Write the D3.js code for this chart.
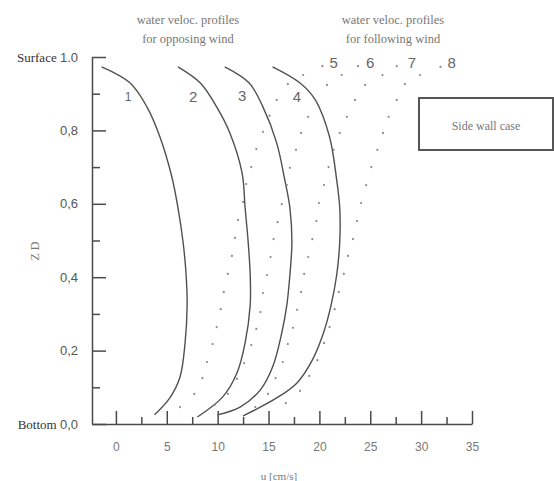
<!DOCTYPE html>
<html>
<head>
<meta charset="utf-8">
<style type="text/css">
html, body{
	padding: 0;
	margin: 0;
	background: white;
}
text{
	fill: #666;
}
.serif{ font-family: "Liberation Serif", "DejaVu Serif", serif; }
.sans{ font-family: "Liberation Sans", Arial, sans-serif; }
</style>
<script src="https://cdn.jsdelivr.net/npm/d3@7/dist/d3.min.js"></script>
</head>
<body>
<svg width=554 height=481></svg>

<script type="text/javascript">
// solid profiles (opposing wind), [u cm/s, z/D]
const profile1 = [[-1.4,0.973],[1.4,0.929],[3.05,0.864],[4.33,0.782],[5.5,0.673],[6.1,0.589],[6.6,0.496],[6.9,0.406],[7.0,0.324],[6.8,0.221],[6.3,0.128],[5.3,0.071],[3.8,0.025]];
const profile2 = [[6.1,0.973],[8.3,0.929],[9.9,0.864],[11.2,0.793],[12.4,0.684],[12.7,0.589],[13.0,0.496],[13.2,0.406],[13.2,0.324],[12.7,0.221],[11.9,0.139],[10.5,0.074],[8.0,0.019]];
const profile3 = [[10.7,0.973],[13.1,0.929],[14.45,0.864],[15.8,0.766],[16.6,0.665],[17.1,0.589],[17.3,0.496],[17.1,0.406],[16.8,0.324],[16.3,0.248],[15.4,0.155],[14.2,0.093],[12.2,0.046],[10.0,0.025]];
const profile4 = [[15.4,0.973],[18.1,0.929],[19.6,0.883],[21.0,0.782],[21.7,0.665],[22.0,0.589],[22.0,0.496],[21.7,0.406],[21.15,0.324],[20.4,0.248],[19.3,0.174],[17.8,0.112],[15.8,0.071],[12.5,0.022]];

// dotted profiles (following wind)
const profile5 = [[20.3,0.975],[18.4,0.951],[16.9,0.926],[15.8,0.883],[15.1,0.840],[14.45,0.796],[13.8,0.749],[13.3,0.700],[12.8,0.654],[12.5,0.605],[12.0,0.556],[11.7,0.507],[11.4,0.458],[11.0,0.409],[10.6,0.360],[10.3,0.313],[9.9,0.264],[9.5,0.218],[8.95,0.169],[8.5,0.125],[7.7,0.082],[6.3,0.046]];
const profile6 = [[23.8,0.975],[22.2,0.951],[20.75,0.924],[19.7,0.880],[18.9,0.837],[18.2,0.793],[17.7,0.747],[17.1,0.698],[16.8,0.651],[16.3,0.599],[15.9,0.550],[15.5,0.504],[15.2,0.455],[14.85,0.406],[14.45,0.357],[14.2,0.305],[13.8,0.259],[13.3,0.215],[12.6,0.166],[11.9,0.123],[11.0,0.082],[9.7,0.052]];
const profile7 = [[27.6,0.975],[26.2,0.951],[24.5,0.924],[23.5,0.883],[22.7,0.837],[22.0,0.793],[21.4,0.747],[20.9,0.700],[20.45,0.651],[19.95,0.602],[19.7,0.553],[19.3,0.504],[18.9,0.455],[18.5,0.409],[18.2,0.360],[17.8,0.311],[17.4,0.262],[16.9,0.218],[16.4,0.169],[15.7,0.125],[14.95,0.082],[13.7,0.046]];
const profile8 = [[31.9,0.973],[29.9,0.951],[28.4,0.926],[27.6,0.883],[26.8,0.837],[26.25,0.793],[25.7,0.747],[25.1,0.700],[24.6,0.651],[24.1,0.602],[23.7,0.553],[23.3,0.504],[22.8,0.458],[22.4,0.409],[21.9,0.360],[21.5,0.313],[21.0,0.264],[20.45,0.221],[19.8,0.174],[19.0,0.131],[18.1,0.090],[16.7,0.057]];

const curveNames = ['1','2','3','4','5','6','7','8'];
const curveLabelAt = [[1.2,0.891],[7.6,0.891],[12.4,0.894],[17.8,0.891],[21.4,0.986],[25.0,0.986],[29.1,0.986],[33.0,0.986]];

const xTicks = [0,5,10,15,20,25,30,35];
const xMinor = [2.5,7.5,12.5,17.5,22.5,27.5,32.5];
const yTicks = [0,0.2,0.4,0.6,0.8,1.0];
const yMinor = [0.1,0.3,0.5,0.7,0.9];
const yTickNames = ['0,0','0,2','0,4','0,6','0,8','1.0'];

var svg = d3.select('svg');

var x = d3.scaleLinear().domain([-2.35,35]).range([92,472]);
var y = d3.scaleLinear().domain([0,1]).range([424,57]);

// x axis, ticks pointing up
var gx = svg.append('g').attr('transform','translate(0,'+y(0)+')')
	.call(d3.axisBottom(x).tickValues(xTicks).tickSize(-13).tickSizeOuter(0).tickPadding(18));
svg.append('g').attr('transform','translate(0,'+y(0)+')')
	.call(d3.axisBottom(x).tickValues(xMinor).tickSize(-7).tickFormat('')).select('.domain').remove();
gx.selectAll('text').attr('class','sans').style('font-size','12px').style('fill','#777');

// y axis, ticks pointing right
var gy = svg.append('g').attr('transform','translate('+x.range()[0]+',0)')
	.call(d3.axisLeft(y).tickValues(yTicks).tickSize(-14).tickSizeOuter(0).tickFormat('').tickPadding(14));
svg.append('g').attr('transform','translate('+x.range()[0]+',0)')
	.call(d3.axisLeft(y).tickValues(yMinor).tickSize(-8).tickFormat('')).select('.domain').remove();

svg.selectAll('.domain, .tick line').style('stroke','#4a4a4a').style('stroke-width',1.5);

var ylab = svg.append('g').selectAll('text')
	.data(yTicks).enter().append('text')
	.attr('class','sans')
	.attr('x',78)
	.attr('y',d=>y(d))
	.attr('dy','0.35em')
	.style('text-anchor','end')
	.style('font-size','13px')
	.style('fill','#555');
ylab.filter(d=>d==1||d==0).append('tspan').attr('class','serif').style('fill','#333')
	.text(d=>d==1?'Surface ':'Bottom ');
ylab.append('tspan').text((d,p)=>yTickNames[p]);

// profiles
var line = d3.line().x(d=>x(d[0])).y(d=>y(d[1])).curve(d3.curveCatmullRom.alpha(0.5));

svg.append('g').selectAll('path')
	.data([profile1,profile2,profile3,profile4])
	.enter().append('path')
	.attr('d',line)
	.style('fill','none')
	.style('stroke','#505050')
	.style('stroke-width',1.4);

svg.append('g').selectAll('g')
	.data([profile5,profile6,profile7,profile8])
	.enter().append('g')
	.selectAll('circle')
	.data(d=>d)
	.enter().append('circle')
	.attr('cx',d=>x(d[0]))
	.attr('cy',d=>y(d[1]))
	.attr('r',1.1)
	.style('fill','#8a8a8a');

svg.append('g').selectAll('text')
	.data(curveNames).enter().append('text')
	.attr('class','sans')
	.attr('x',(d,p)=>x(curveLabelAt[p][0]))
	.attr('y',(d,p)=>y(curveLabelAt[p][1]))
	.attr('dy','0.36em')
	.style('text-anchor','middle')
	.style('font-size',(d,p)=>p==0?'12px':'15px')
	.style('fill','#666')
	.text(d=>d);

// titles
var titles = [['water veloc. profiles','for opposing wind',188],['water veloc. profiles','for following wind',393]];
titles.forEach(t=>{
	svg.append('text').attr('class','serif').attr('x',t[2]).attr('y',24)
		.style('text-anchor','middle').style('font-size','12.5px').style('fill','#777').text(t[0]);
	svg.append('text').attr('class','serif').attr('x',t[2]).attr('y',43)
		.style('text-anchor','middle').style('font-size','12.5px').style('fill','#777').text(t[1]);
});

// legend box
svg.append('rect').attr('x',419).attr('y',98).attr('width',134).attr('height',52)
	.style('fill','none').style('stroke','#555').style('stroke-width',2);
svg.append('text').attr('class','serif').attr('x',486).attr('y',126).attr('dy','0.35em')
	.style('text-anchor','middle').style('font-size','12px').style('fill','#777').text('Side wall case');

// axis titles
svg.append('text').attr('class','serif')
	.attr('transform','translate(35,251) rotate(-90)').attr('dy','0.35em')
	.style('text-anchor','middle').style('font-size','12px').style('fill','#777').text('Z D');
svg.append('text').attr('class','serif').attr('x',279).attr('y',476).attr('dy','0.35em')
	.style('text-anchor','middle').style('font-size','11px').style('fill','#777').text('u [cm/s]');
</script>
</body>
</html>
